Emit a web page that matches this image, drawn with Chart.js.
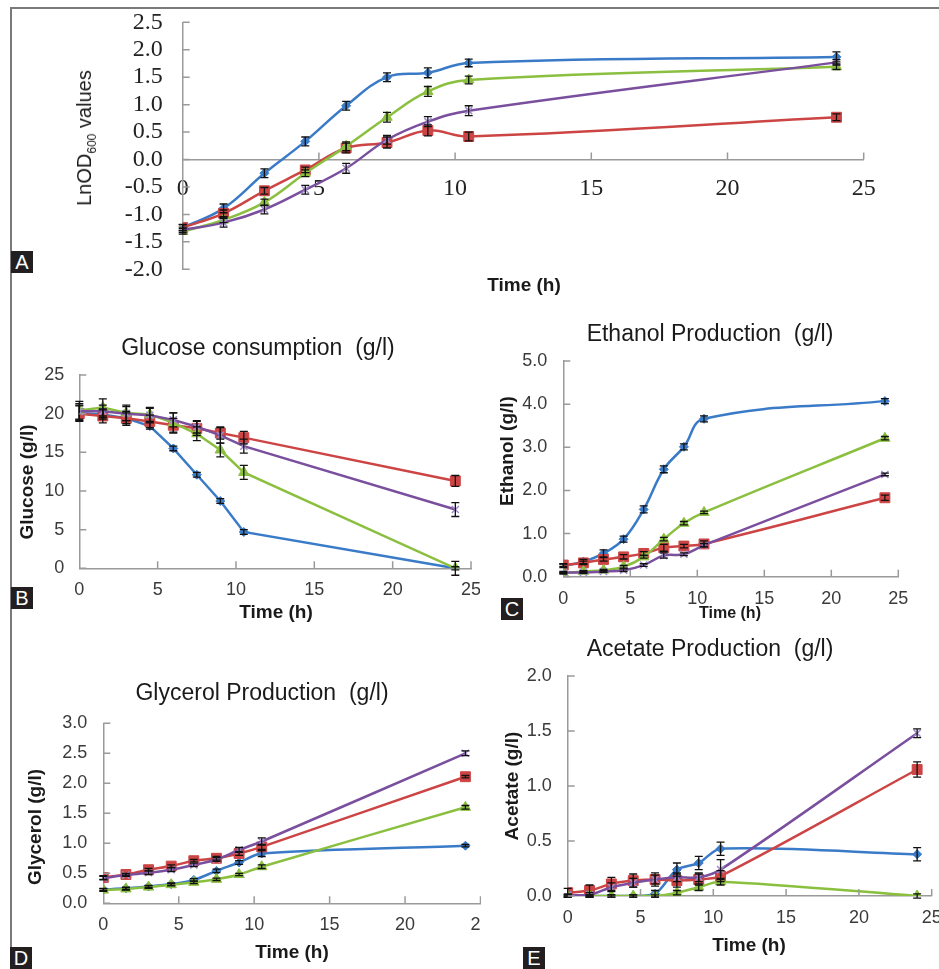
<!DOCTYPE html>
<html>
<head>
<meta charset="utf-8">
<script src="https://cdn.jsdelivr.net/npm/chart.js@4.4.0/dist/chart.umd.min.js"></script>
<style>
body { margin: 0; background: #fff; }
#fig { position: relative; width: 939px; height: 969px; overflow: hidden; font-family: Arial, "Liberation Sans", sans-serif; color: #1a1a1a; }
.wrap { position: absolute; overflow: hidden; }
.wrap canvas { position: absolute; left: 0; top: 0; }
.lbl { position: absolute; width: 22px; height: 22px; background: #231f20; color: #fff; font-size: 20px; line-height: 22px; text-align: center; z-index: 3; }
.title, .xt, .yt { position: absolute; white-space: pre; z-index: 2; }
.title { font-size: 23px; transform: translate(-50%, -50%); }
.xt { font-size: 19px; font-weight: bold; transform: translate(-50%, -50%); }
.yt { font-size: 19px; font-weight: bold; transform: translate(-50%, -50%) rotate(-90deg); }
.frameTop { position: absolute; left: 10px; top: 7px; width: 929px; height: 2px; background: #7a7a7a; }
.frameLeft { position: absolute; left: 10px; top: 7px; width: 2px; height: 942px; background: #7a7a7a; }
</style>
</head>
<body>
<div id="fig">
  <div class="frameTop"></div>
  <div class="frameLeft"></div>

  <div class="wrap" style="left:90px;top:-20px;width:820px;height:320px"><canvas id="chartA" width="820" height="320"></canvas></div>
  <div class="wrap" style="left:0;top:330px;width:480px;height:290px"><canvas id="chartB" width="500" height="290"></canvas></div>
  <div class="wrap" style="left:490px;top:320px;width:449px;height:310px"><canvas id="chartC" width="449" height="310"></canvas></div>
  <div class="wrap" style="left:0;top:680px;width:481px;height:289px"><canvas id="chartD" width="500" height="289"></canvas></div>
  <div class="wrap" style="left:490px;top:640px;width:449px;height:329px"><canvas id="chartE" width="470" height="329"></canvas></div>

  <div class="yt" style="left:86px;top:138px;font-size:20px;font-weight:normal">LnOD<sub style="font-size:12px">600</sub> values</div>
  <div class="xt" style="left:524px;top:285px">Time (h)</div>

  <div class="title" style="left:258px;top:347px">Glucose consumption  (g/l)</div>
  <div class="yt" style="left:27px;top:482px">Glucose (g/l)</div>
  <div class="xt" style="left:276px;top:612px">Time (h)</div>

  <div class="title" style="left:710px;top:333px">Ethanol Production  (g/l)</div>
  <div class="yt" style="left:507px;top:451px">Ethanol (g/l)</div>
  <div class="xt" style="left:730px;top:613px;font-size:16px">Time (h)</div>

  <div class="title" style="left:262px;top:692px">Glycerol Production  (g/l)</div>
  <div class="yt" style="left:35px;top:827px">Glycerol (g/l)</div>
  <div class="xt" style="left:292px;top:952px">Time (h)</div>

  <div class="title" style="left:710px;top:648px">Acetate Production  (g/l)</div>
  <div class="yt" style="left:512px;top:786px">Acetate (g/l)</div>
  <div class="xt" style="left:749px;top:945px">Time (h)</div>

  <div class="lbl" style="left:11px;top:251px">A</div>
  <div class="lbl" style="left:11px;top:587px">B</div>
  <div class="lbl" style="left:501px;top:598px">C</div>
  <div class="lbl" style="left:10px;top:947px">D</div>
  <div class="lbl" style="left:523px;top:947px">E</div>
</div>

<script>
// sampling times (h), shared by every panel
const hours = [0, 1.5, 3, 4.5, 6, 7.5, 9, 10.5, 24];
const timeTicks = [0, 5, 10, 15, 20, 25];

// A - LnOD600
const odTicks = [-2.0, -1.5, -1.0, -0.5, 0.0, 0.5, 1.0, 1.5, 2.0, 2.5];
const odBlue = [-1.24, -0.89, -0.25, 0.33, 0.98, 1.50, 1.58, 1.76, 1.87];
const odRed = [-1.24, -0.98, -0.57, -0.19, 0.21, 0.31, 0.53, 0.42, 0.77];
const odGreen = [-1.31, -1.10, -0.78, -0.25, 0.24, 0.77, 1.24, 1.45, 1.69];
const odPurple = [-1.28, -1.15, -0.91, -0.55, -0.16, 0.36, 0.69, 0.89, 1.77];
const odBlueErr = [0.06, 0.08, 0.08, 0.08, 0.08, 0.08, 0.09, 0.07, 0.09];
const odRedErr = [0.05, 0.06, 0.06, 0.05, 0.09, 0.10, 0.10, 0.08, 0.06];
const odGreenErr = [0.05, 0.05, 0.06, 0.06, 0.08, 0.09, 0.09, 0.07, 0.05];
const odPurpleErr = [0.05, 0.08, 0.08, 0.08, 0.09, 0.08, 0.09, 0.09, 0.05];

// B - glucose (g/l)
const glucoseTicks = [0, 5, 10, 15, 20, 25];
const glcBlue = [20.1, 19.9, 19.4, 18.4, 15.5, 12.1, 8.7, 4.7, 0.0];
const glcRed = [20.0, 19.7, 19.4, 19.0, 18.5, 18.1, 17.5, 16.9, 11.3];
const glcGreen = [20.4, 20.8, 20.1, 19.9, 18.8, 17.4, 15.3, 12.4, 0.0];
const glcPurple = [20.3, 20.3, 20.0, 19.8, 19.2, 18.3, 17.2, 15.8, 7.6];
const glcBlueErr = [1.0, 0.6, 0.7, 0.4, 0.3, 0.3, 0.3, 0.3, 0.2];
const glcRedErr = [1.0, 0.9, 0.9, 0.8, 0.9, 0.9, 0.8, 0.8, 0.7];
const glcGreenErr = [1.2, 1.1, 1.0, 0.9, 1.3, 0.9, 0.9, 0.9, 0.9];
const glcPurpleErr = [1.0, 0.8, 0.9, 0.9, 0.9, 0.8, 1.0, 0.9, 0.9];

// C - ethanol (g/l)
const ethanolTicks = [0, 1, 2, 3, 4, 5];
const etBlue = [0.25, 0.35, 0.54, 0.87, 1.56, 2.49, 3.01, 3.66, 4.07];
const etRed = [0.27, 0.32, 0.40, 0.46, 0.54, 0.67, 0.71, 0.76, 1.83];
const etGreen = [0.08, 0.12, 0.15, 0.23, 0.46, 0.87, 1.24, 1.49, 3.21];
const etPurple = [0.10, 0.10, 0.12, 0.15, 0.27, 0.49, 0.52, 0.73, 2.37];
const etBlueErr = [0.04, 0.05, 0.08, 0.07, 0.08, 0.08, 0.07, 0.07, 0.06];
const etRedErr = [0.03, 0.04, 0.04, 0.05, 0.04, 0.08, 0.04, 0.07, 0.06];
const etGreenErr = [0.02, 0.02, 0.02, 0.03, 0.03, 0.04, 0.04, 0.03, 0.04];
const etPurpleErr = [0.02, 0.02, 0.02, 0.03, 0.03, 0.06, 0.03, 0.04, 0.03];

// D - glycerol (g/l)
const glycerolTicks = [0, 0.5, 1.0, 1.5, 2.0, 2.5, 3.0];
const gyBlue = [0.23, 0.25, 0.28, 0.32, 0.39, 0.54, 0.68, 0.83, 0.96];
const gyRed = [0.43, 0.48, 0.56, 0.62, 0.71, 0.75, 0.83, 0.94, 2.11];
const gyGreen = [0.22, 0.24, 0.27, 0.31, 0.35, 0.40, 0.48, 0.61, 1.60];
const gyPurple = [0.42, 0.47, 0.51, 0.56, 0.64, 0.73, 0.89, 1.03, 2.50];
const gyBlueErr = [0.02, 0.02, 0.02, 0.02, 0.02, 0.03, 0.03, 0.05, 0.02];
const gyRedErr = [0.03, 0.02, 0.02, 0.02, 0.02, 0.03, 0.03, 0.04, 0.02];
const gyGreenErr = [0.02, 0.02, 0.02, 0.02, 0.02, 0.02, 0.02, 0.03, 0.03];
const gyPurpleErr = [0.03, 0.02, 0.03, 0.03, 0.03, 0.03, 0.04, 0.06, 0.04];

// E - acetate (g/l)
const acetateTicks = [0, 0.5, 1.0, 1.5, 2.0];
const acBlue = [0.00, 0.00, 0.00, 0.00, 0.02, 0.24, 0.30, 0.43, 0.38];
const acRed = [0.03, 0.05, 0.11, 0.14, 0.15, 0.14, 0.15, 0.18, 1.15];
const acGreen = [0.00, 0.00, 0.00, 0.00, 0.00, 0.03, 0.08, 0.13, 0.00];
const acPurple = [0.01, 0.01, 0.08, 0.12, 0.15, 0.17, 0.17, 0.24, 1.48];
const acBlueErr = [0.01, 0.01, 0.01, 0.01, 0.03, 0.06, 0.06, 0.06, 0.06];
const acRedErr = [0.04, 0.05, 0.06, 0.06, 0.06, 0.06, 0.05, 0.05, 0.07];
const acGreenErr = [0.01, 0.01, 0.01, 0.01, 0.01, 0.02, 0.03, 0.03, 0.02];
const acPurpleErr = [0.01, 0.02, 0.04, 0.04, 0.04, 0.04, 0.04, 0.09, 0.04];

const BLUE = '#3a7bc8', RED = '#cc4444', GREEN = '#8bbf3f', PURPLE = '#7a4f9e';

const errorBars = {
    id: 'errorBars',
    afterDatasetsDraw(chart) {
        const ctx = chart.ctx;
        const ys = chart.scales.y;
        ctx.save();
        ctx.strokeStyle = '#111';
        ctx.lineWidth = 1.3;
        chart.data.datasets.forEach((ds, i) => {
            const meta = chart.getDatasetMeta(i);
            meta.data.forEach((pt, j) => {
                const v = ds.data[j].y, e = ds.errors[j];
                const top = ys.getPixelForValue(v + e), bot = ys.getPixelForValue(v - e);
                ctx.beginPath();
                ctx.moveTo(pt.x, top); ctx.lineTo(pt.x, bot);
                ctx.moveTo(pt.x - 4, top); ctx.lineTo(pt.x + 4, top);
                ctx.moveTo(pt.x - 4, bot); ctx.lineTo(pt.x + 4, bot);
                ctx.stroke();
            });
        });
        ctx.restore();
    }
};

// excel style tick marks pointing into the plot
const innerTicks = {
    id: 'innerTicks',
    afterDraw(chart, args, opts) {
        const {ctx, scales: {x, y}} = chart;
        const base = y.getPixelForValue(opts.xAt);
        ctx.save();
        ctx.strokeStyle = '#9a9a9a';
        ctx.lineWidth = 1.5;
        ctx.beginPath();
        x.ticks.forEach(t => {
            if (t.value === 0) return;
            const px = x.getPixelForValue(t.value);
            ctx.moveTo(px, base); ctx.lineTo(px, base - 7);
        });
        y.ticks.forEach(t => {
            const py = y.getPixelForValue(t.value);
            ctx.moveTo(x.left, py); ctx.lineTo(x.left + 7, py);
        });
        ctx.stroke();
        ctx.restore();
    }
};

const series = (color, style, radius, vals, errs, tension) => ({
    data: vals.map((v, i) => ({x: hours[i], y: v})),
    errors: errs,
    showLine: true,
    borderColor: color,
    borderWidth: 2.5,
    tension: tension,
    pointStyle: style,
    pointRadius: radius,
    pointBackgroundColor: color,
    pointBorderColor: style === 'crossRot' ? '#a08ccc' : color,
    pointBorderWidth: style === 'crossRot' ? 1.5 : 1
});

const makePanel = (id, opt) => {
    const c = document.getElementById(id);
    const W = c.width, H = c.height;
    const a = opt.area;
    const tickFont = opt.tickFont;
    return new Chart(c, {
        type: 'scatter',
        data: {
            datasets: [
                Object.assign(series(PURPLE, 'crossRot', 5, opt.data[3], opt.err[3], opt.tension), {order: 0}),
                Object.assign(series(GREEN, 'triangle', 6, opt.data[2], opt.err[2], opt.tension), {order: 1}),
                Object.assign(series(RED, 'rect', 7, opt.data[1], opt.err[1], opt.tension), {order: 2}),
                Object.assign(series(BLUE, 'rectRot', 4.5, opt.data[0], opt.err[0], opt.tension), {order: 3})
            ]
        },
        options: {
            responsive: false,
            animation: false,
            layout: {padding: {left: 0, top: a.t, right: W - a.r, bottom: opt.xAt === null ? 0 : H - a.b}},
            plugins: {legend: {display: false}, tooltip: {enabled: false}, innerTicks: {xAt: opt.xAt === null ? opt.yTicks[0] : opt.xAt}},
            scales: {
                x: {
                    type: 'linear',
                    min: 0, max: 25,
                    position: opt.xAt === null ? 'bottom' : {y: opt.xAt},
                    afterBuildTicks: s => { s.ticks = timeTicks.map(v => ({value: v})); },
                    afterFit: s => { if (opt.xAt === null) s.height = H - a.b; },
                    grid: {display: false},
                    border: {display: true, color: '#9a9a9a', width: 1.5},
                    ticks: {font: tickFont, color: opt.tickColor, padding: opt.xPad, maxRotation: 0, autoSkip: false, callback: v => String(v)}
                },
                y: {
                    type: 'linear',
                    min: opt.yTicks[0], max: opt.yTicks[opt.yTicks.length - 1],
                    afterBuildTicks: s => { s.ticks = opt.yTicks.map(v => ({value: v})); },
                    afterFit: s => { s.width = a.l; },
                    grid: {display: false},
                    border: {display: true, color: '#9a9a9a', width: 1.5},
                    ticks: {font: tickFont, color: opt.tickColor, padding: opt.yPad, autoSkip: false, callback: v => v.toFixed(opt.dec)}
                }
            }
        },
        plugins: [errorBars, innerTicks]
    });
};

// chart areas are given relative to each canvas
makePanel('chartA', {
    area: {l: 92.7, r: 773.7, t: 42.3, b: 289.3},
    xAt: 0, yTicks: odTicks, dec: 1, tension: 0.4,
    tickFont: {family: 'Liberation Serif', size: 24}, tickColor: '#222',
    xPad: 7, yPad: 12,
    data: [odBlue, odRed, odGreen, odPurple],
    err: [odBlueErr, odRedErr, odGreenErr, odPurpleErr]
});
makePanel('chartB', {
    area: {l: 79.3, r: 471, t: 45, b: 238.3},
    xAt: null, yTicks: glucoseTicks, dec: 0, tension: 0,
    tickFont: {family: 'Arial', size: 18}, tickColor: '#3a3a3a',
    xPad: 3, yPad: 7,
    data: [glcBlue, glcRed, glcGreen, glcPurple],
    err: [glcBlueErr, glcRedErr, glcGreenErr, glcPurpleErr]
});
makePanel('chartC', {
    area: {l: 73.3, r: 408.3, t: 41, b: 256.7},
    xAt: null, yTicks: ethanolTicks, dec: 1, tension: 0.4,
    tickFont: {family: 'Arial', size: 18}, tickColor: '#3a3a3a',
    xPad: 4, yPad: 8,
    data: [etBlue, etRed, etGreen, etPurple],
    err: [etBlueErr, etRedErr, etGreenErr, etPurpleErr]
});
makePanel('chartD', {
    area: {l: 103.3, r: 480.5, t: 43.3, b: 223.3},
    xAt: null, yTicks: glycerolTicks, dec: 1, tension: 0.3,
    tickFont: {family: 'Arial', size: 18}, tickColor: '#3a3a3a',
    xPad: 3, yPad: 8,
    data: [gyBlue, gyRed, gyGreen, gyPurple],
    err: [gyBlueErr, gyRedErr, gyGreenErr, gyPurpleErr]
});
makePanel('chartE', {
    area: {l: 77.7, r: 441.7, t: 36, b: 256},
    xAt: null, yTicks: acetateTicks, dec: 1, tension: 0.3,
    tickFont: {family: 'Arial', size: 18}, tickColor: '#3a3a3a',
    xPad: 3, yPad: 8,
    data: [acBlue, acRed, acGreen, acPurple],
    err: [acBlueErr, acRedErr, acGreenErr, acPurpleErr]
});
</script>
</body>
</html>
